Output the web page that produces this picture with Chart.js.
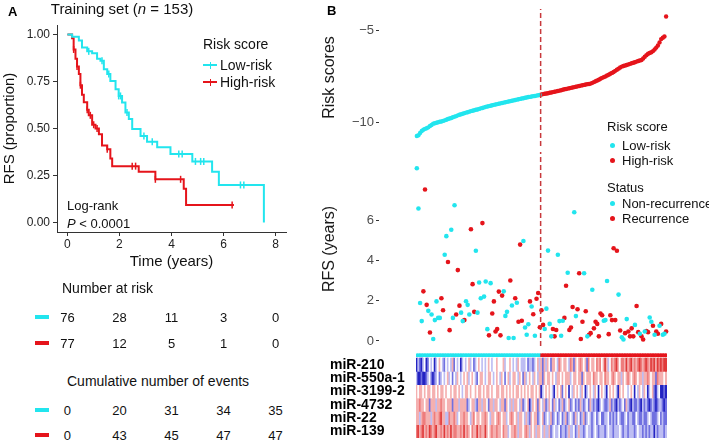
<!DOCTYPE html>
<html><head><meta charset="utf-8">
<script src="https://cdn.jsdelivr.net/npm/chart.js@4.4.1/dist/chart.umd.min.js"></script>
<style>
html,body{margin:0;padding:0;background:#fff;}
#root{position:relative;width:709px;height:441px;overflow:hidden;font-family:'Liberation Sans',Arial,sans-serif;color:#000;}
canvas{position:absolute;}
.t{position:absolute;white-space:nowrap;line-height:1;}
.k{position:absolute;}
</style></head><body><div id="root">
<canvas id="km" width="300" height="275" style="left:0;top:0;width:300px;height:275px"></canvas>
<canvas id="risk" width="399" height="150" style="left:310px;top:0;width:399px;height:150px"></canvas>
<canvas id="rfs" width="399" height="202" style="left:310px;top:148px;width:399px;height:202px"></canvas>
<canvas id="heat" width="379" height="89" style="left:330px;top:352px;width:379px;height:89px"></canvas>
</div>
<script>
// ---------------- data ----------------
const kmLowTime  = [0, 0.18, 0.44, 0.56, 0.76, 0.95, 1.14, 1.27, 1.40, 1.53, 1.65, 1.85, 1.97, 2.10, 2.23, 2.36, 2.49, 2.81, 3.06, 3.45, 3.96, 4.80, 5.56, 5.82, 7.55];
const kmLowSurv  = [1.0, 0.987, 0.968, 0.93, 0.91, 0.90, 0.87, 0.86, 0.815, 0.79, 0.752, 0.708, 0.673, 0.638, 0.585, 0.55, 0.497, 0.46, 0.43, 0.40, 0.365, 0.325, 0.27, 0.20, 0.0];
const kmHighTime = [0, 0.18, 0.24, 0.31, 0.37, 0.44, 0.50, 0.56, 0.63, 0.76, 0.82, 0.95, 1.08, 1.21, 1.33, 1.53, 1.65, 1.72, 2.74, 3.38, 4.47, 4.56, 6.40];
const kmHighSurv = [1.0, 0.98, 0.92, 0.87, 0.83, 0.79, 0.73, 0.68, 0.64, 0.60, 0.57, 0.52, 0.50, 0.47, 0.41, 0.39, 0.34, 0.30, 0.27, 0.23, 0.18, 0.094, 0.094];
const kmLowCensor  = [0.82, 1.33, 1.59, 1.97, 2.04, 2.29, 2.94, 3.26, 4.28, 4.41, 4.92, 5.12, 5.24, 6.65, 6.78];
const kmHighCensor = [0.24, 0.37, 0.50, 0.76, 0.88, 1.01, 1.14, 1.53, 2.49, 2.62, 3.38, 4.35, 6.33];
const kmXTicks = [0, 2, 4, 6, 8];
const kmYTicks = [0, 0.25, 0.5, 0.75, 1];
const tableTimes = [0, 2, 4, 6, 8];
const atRiskLow  = [76, 28, 11, 3, 0];
const atRiskHigh = [77, 12, 5, 1, 0];
const eventsLow  = [0, 20, 31, 34, 35];
const eventsHigh = [0, 43, 45, 47, 47];

const riskLow = [-10.72,-10.68,-10.55,-10.45,-10.38,-10.33,-10.30,-10.25,-10.18,-10.12,
 -10.05,-10.03,-10.00,-9.97,-9.95,-9.93,-9.90,-9.87,-9.84,-9.80,
 -9.77,-9.74,-9.70,-9.67,-9.64,-9.60,-9.57,-9.54,-9.51,-9.48,
 -9.45,-9.43,-9.40,-9.37,-9.35,-9.32,-9.30,-9.28,-9.25,-9.22,
 -9.20,-9.17,-9.14,-9.12,-9.10,-9.08,-9.05,-9.03,-9.01,-8.99,
 -8.97,-8.95,-8.93,-8.91,-8.89,-8.87,-8.85,-8.83,-8.81,-8.79,
 -8.77,-8.75,-8.73,-8.71,-8.69,-8.67,-8.65,-8.63,-8.61,-8.60,
 -8.58,-8.56,-8.55,-8.53,-8.51,-8.49];
const riskHigh = [-8.47,-8.45,-8.43,-8.42,-8.40,-8.38,-8.36,-8.34,-8.32,-8.30,
 -8.28,-8.26,-8.24,-8.21,-8.19,-8.17,-8.15,-8.13,-8.11,-8.09,
 -8.07,-8.05,-8.03,-8.01,-7.99,-7.97,-7.95,-7.93,-7.91,-7.90,
 -7.88,-7.84,-7.80,-7.75,-7.71,-7.67,-7.62,-7.57,-7.53,-7.49,
 -7.44,-7.40,-7.35,-7.30,-7.25,-7.19,-7.13,-7.07,-7.01,-6.96,
 -6.93,-6.90,-6.87,-6.84,-6.81,-6.78,-6.75,-6.72,-6.69,-6.66,
 -6.63,-6.60,-6.52,-6.43,-6.34,-6.26,-6.22,-6.18,-6.12,-6.03,
 -5.93,-5.82,-5.65,-5.47,-5.40,-5.33,-4.25];

const rfsLow = [8.60,6.60,1.89,0.99,2.47,7.54,1.80,1.50,0.42,1.32,
 0.10,1.04,1.97,1.15,1.15,2.13,1.53,4.29,5.22,3.93,
 0.54,5.54,1.15,6.76,1.32,3.53,1.76,1.41,0.99,1.04,
 1.98,1.80,1.32,5.56,2.83,1.45,4.49,1.41,2.91,2.13,
 5.87,2.21,2.96,0.59,0.28,2.88,1.37,1.97,0.47,0.60,
 2.46,0.28,2.26,2.47,1.25,1.45,0.15,3.01,1.77,0.15,
 2.13,1.90,0.96,4.80,1.01,4.98,0.67,0.31,0.83,1.97,
 1.72,1.33,0.26,2.10,2.39,0.68];
const rfsHigh = [1.53,0.80,0.60,1.61,4.50,0.85,0.23,0.60,0.23,0.55,
 4.29,0.99,0.26,1.01,1.15,2.75,3.40,0.55,0.67,1.69,
 6.41,1.24,1.58,3.37,0.10,0.96,3.37,1.48,0.23,0.31,
 0.39,2.55,0.63,0.96,0.85,0.23,1.37,1.28,1.01,1.04,
 2.99,0.34,1.28,1.04,4.62,1.04,4.49,2.31,0.52,0.18,
 0.07,0.39,1.09,0.47,0.23,0.63,0.23,0.80,1.74,0.44,
 0.36,0.23,0.07,0.47,0.50,0.44,1.17,0.96,0.76,0.31,
 0.47,0.36,0.76,0.85,0.31,0.36,0.47];
// C = non-recurrence, R = recurrence
const statusLow  = "CCCCRRRCRC CCCCCRRCCR RCCCRRRCCR CCCRRRCCCC RCCCRCRRRR RRRCCCCRCC RCRRRCCCCR CRCRRR";
const statusHigh = "RRCCCCCRRR CCCCRRCRRR CCRRRRCRCR RCRRRRRRCC CRRRRRRCRC CRCRRRRCRR CRRCRRCCRC RRCRCCR";
const riskTicks = [-10, -5];
const rfsTicks  = [0, 2, 4, 6];

const miRNAs = ['miR-210', 'miR-550a-1', 'miR-3199-2', 'miR-4732', 'miR-22', 'miR-139'];
// expression level codes: B=-3 b=-2 l=-1 0=0 p=1 r=2 R=3
const expr210  = "BlbBl0Bb0l 0Bl0p0lb0l 0lpb0l0Bl0 l0pl0bl0p0 l0l0p0l00p 000pl00p0l 0lp0lll0bl lbl0plpbpl p0bpp0lrp0 pp0lrpbp0p rp0pbr0pp0 rpr0pRpl0r prRp0rrpRp rRprprRrpr RrpRrRpRrR rRR";
const expr550  = "lBBbBBbl0b Bbl0bl0l0p l0b0lp0l0p 0pl0p0lb0p p0l0pp0l0p 0lp0b0pl0p p0lp0bpl0p 0lp0lppbp0 pp0p0lpp0p 0pppl0pp0p pbp0ppp0rp p0pp0rpp0p rp0pplp0pr p0prp0pplp prp0ppbrpp p0p";
const expr3199 = "p0pp0p0pp0 pp0p0pp0p0 0p0pp0p0l0 pp0p00p0pp 0p0pp0p00p p0pp0p0p0p 0pp0p0p0p0 pp0p0pBl0p 0p0lB0p0pb 0p0B0lp0p0 lp0Bl0p0lp 0B0p0lB0p0 p0lBp0p00l 0p0B0lp0lp 0Bl0pbBl0B BbB";
const expr4732 = "pprpp0ppbp pplpprpp0p ppbppplppp pbl0pplbpp lpp0bpplpp 0lppbp0lpl pp0lpbl0pB lp0pbp0lpb lp0bpl0blp bl0pbl0blb plbl0bplbl bBl0lbblpb lbBlbl0bpl bBlbblbBlb lbBblbBbll bBb";
const expr22   = "pplprrpppl prpprRppll rpprpl0ppr pp0lpr0pp0 pprp0lpp0p rp0ppl0prp 0plpp0lplb p0ppbl0pbl 0lpbl0bl0b lpbl0lbpl0 blpbl0lbl0 bl0bbll0bl blb0lbbl0b llbb0lbblb bl0lbbbl0b lbb";
const expr139  = "rRprRprpRr prRpprpRpr pRprrpprpR prp0rppRpr ppRp0prppr pp0rppl0pp rplpp0prpl p0plpp0lpl lpbl0ll0bl lblpll0blp llbl0llbl0 lblllbl0ll blll0lbllb lllbl0llbl blbllBlbll lbl";

// ---------------- style ----------------
const FONT = "'Liberation Sans', Arial, sans-serif";
Chart.defaults.font.family = FONT;
Chart.defaults.animation = false;
Chart.defaults.responsive = false;
Chart.defaults.plugins.legend.display = false;
Chart.defaults.plugins.tooltip.enabled = false;
const CYAN = '#22e5ee', RED = '#e5141b', DASH = '#c8393c';

const root = document.getElementById('root');
function txt(html, x, y, size, opt) {
  opt = opt || {};
  const d = document.createElement('div');
  d.className = 't';
  d.innerHTML = html;
  d.style.left = x + 'px';
  d.style.top = (y - size * 0.5) + 'px';
  d.style.fontSize = size + 'px';
  if (opt.bold) d.style.fontWeight = 'bold';
  if (opt.color) d.style.color = opt.color;
  if (opt.align === 'center') d.style.transform = 'translateX(-50%)';
  if (opt.align === 'right') d.style.transform = 'translateX(-100%)';
  root.appendChild(d);
  return d;
}
function box(x, y, w, h, color, round) {
  const d = document.createElement('div');
  d.className = 'k';
  d.style.cssText = `left:${x}px;top:${y}px;width:${w}px;height:${h}px;background:${color};` + (round ? 'border-radius:50%;' : '');
  root.appendChild(d);
}
// fixed axis size, no automatic label padding
function fixW(w) { return s => { s.width = w; s.paddingTop = 0; s.paddingBottom = 0; }; }
function fixH(h) { return s => { s.height = h; s.paddingLeft = 0; s.paddingRight = 0; }; }

// ---------------- Panel A : Kaplan-Meier ----------------
function survAt(times, surv, t) {
  let s = surv[0];
  for (let i = 0; i < times.length; i++) if (times[i] <= t) s = surv[i];
  return s;
}
const km = new Chart(document.getElementById('km'), {
  type: 'line',
  data: { datasets: [
    { data: kmLowTime.map((t, i) => ({x: t, y: kmLowSurv[i]})), stepped: true, borderColor: CYAN, borderWidth: 2, pointRadius: 0, fill: false },
    { data: kmHighTime.map((t, i) => ({x: t, y: kmHighSurv[i]})), stepped: true, borderColor: RED, borderWidth: 2, pointRadius: 0, fill: false },
    { data: kmLowCensor.map(t => ({x: t, y: survAt(kmLowTime, kmLowSurv, t)})), showLine: false, pointStyle: 'line', rotation: 90, pointRadius: 3.5, pointBorderWidth: 1.5, pointBorderColor: CYAN },
    { data: kmHighCensor.map(t => ({x: t, y: survAt(kmHighTime, kmHighSurv, t)})), showLine: false, pointStyle: 'line', rotation: 90, pointRadius: 3.5, pointBorderWidth: 1.5, pointBorderColor: RED }
  ]},
  options: {
    layout: { padding: { top: 25, right: 14, left: 0, bottom: 0 } },
    scales: {
      x: { type: 'linear', min: -0.4, max: 8.4,
        afterBuildTicks: s => { s.ticks = kmXTicks.map(v => ({value: v})); },
        afterFit: fixH(43),
        ticks: { color: '#222', font: { size: 12 }, padding: 1, maxRotation: 0 },
        grid: { drawOnChartArea: false, tickLength: 4, color: '#333' },
        border: { color: '#333', width: 1 },
        title: { display: true, text: 'Time (years)', color: '#111', font: { size: 15 }, padding: { top: 0, bottom: 4 } } },
      y: { type: 'linear', min: -0.05, max: 1.05,
        afterBuildTicks: s => { s.ticks = kmYTicks.map(v => ({value: v})); },
        afterFit: fixW(57),
        ticks: { color: '#222', font: { size: 12 }, padding: 3, callback: v => Number(v).toFixed(2) },
        grid: { drawOnChartArea: false, tickLength: 4, color: '#333' },
        border: { color: '#333', width: 1 },
        title: { display: true, text: 'RFS (proportion)', color: '#111', font: { size: 15 }, padding: { top: 1, bottom: 0 } } }
    }
  }
});

txt('A', 8, 11, 13, {bold: true});
txt('Training set (<i>n</i> = 153)', 122, 8, 15, {align: 'center', color: '#111'});
txt('Risk score', 203, 44, 14, {color: '#111'});
box(203, 64, 14, 2, CYAN); box(209.5, 61.5, 1.5, 7, CYAN);
txt('Low-risk', 220, 65, 14, {color: '#111'});
box(203, 81, 14, 2, RED); box(209.5, 78.5, 1.5, 7, RED);
txt('High-risk', 220, 82, 14, {color: '#111'});
txt('Log-rank', 67, 205, 13, {color: '#111'});
txt('<i>P</i> &lt; 0.0001', 67, 223, 13, {color: '#111'});

// number-at-risk / cumulative events tables placed on the KM time scale
const kx = t => km.scales.x.getPixelForValue(t);
txt('Number at risk', 62, 288, 14, {color: '#111'});
txt('Cumulative number of events', 67, 381, 14, {color: '#111'});
[[atRiskLow, 317, CYAN], [atRiskHigh, 343, RED], [eventsLow, 410, CYAN], [eventsHigh, 435, RED]].forEach(([vals, y, col]) => {
  box(35, y - 2, 14, 4, col);
  vals.forEach((v, i) => txt(String(v), kx(tableTimes[i]), y, 13, {align: 'center', color: '#111'}));
});

// ---------------- Panel B ----------------
const N = riskLow.length + riskHigh.length;
const cut = riskLow.length - 0.5;
const HEAT_L = 416, COLW = 1.64;
const B_LEFT = 379, B_RIGHT = 700;
const xMinB = (B_LEFT - HEAT_L) / COLW - 0.5;
const xMaxB = (B_RIGHT - HEAT_L) / COLW - 0.5;
const fmtNum = v => (v < 0 ? '\u2212' + Math.abs(v) : String(v));

function bScales(yMin, yMax, ticksArr, title) {
  return {
    x: { type: 'linear', display: false, min: xMinB, max: xMaxB },
    y: { type: 'linear', min: yMin, max: yMax,
      afterBuildTicks: s => { s.ticks = ticksArr.map(v => ({value: v})); },
      afterFit: fixW(B_LEFT - 310),
      ticks: { color: '#4d4d4d', font: { size: 13 }, padding: 2, callback: v => fmtNum(v) },
      grid: { drawOnChartArea: false, tickLength: 3, color: '#333' },
      border: { display: false },
      title: { display: true, text: title, color: '#1a1a1a', font: { size: 16 }, padding: { top: 10, bottom: 0 } } }
  };
}
function cutLine(yMin, yMax) {
  return { data: [{x: cut, y: yMin}, {x: cut, y: yMax}], showLine: true, borderColor: DASH, borderDash: [5, 3], borderWidth: 1.5, pointRadius: 0 };
}

const RISK_MIN = -11.26, RISK_MAX = -3.84;
new Chart(document.getElementById('risk'), {
  type: 'scatter',
  data: { datasets: [
    cutLine(RISK_MIN, RISK_MAX),
    { data: riskLow.map((v, i) => ({x: i, y: v})), backgroundColor: CYAN, pointRadius: 2.2, pointBorderWidth: 0 },
    { data: riskHigh.map((v, i) => ({x: riskLow.length + i, y: v})), backgroundColor: RED, pointRadius: 2.2, pointBorderWidth: 0 }
  ]},
  options: { layout: { padding: { top: 9, right: 709 - B_RIGHT, bottom: 0, left: 0 } }, scales: bScales(RISK_MIN, RISK_MAX, riskTicks, 'Risk scores') }
});

const rfsAll = rfsLow.concat(rfsHigh);
const statusAll = (statusLow + statusHigh).replace(/\s/g, '').split('');
const RFS_MIN = -0.25, RFS_MAX = 9.41;
new Chart(document.getElementById('rfs'), {
  type: 'scatter',
  data: { datasets: [
    cutLine(RFS_MIN, RFS_MAX),
    { data: rfsAll.map((v, i) => ({x: i, y: v, s: statusAll[i]})).filter(p => p.s === 'C'), backgroundColor: CYAN, pointRadius: 2.3, pointBorderWidth: 0 },
    { data: rfsAll.map((v, i) => ({x: i, y: v, s: statusAll[i]})).filter(p => p.s === 'R'), backgroundColor: RED, pointRadius: 2.3, pointBorderWidth: 0 }
  ]},
  options: { layout: { padding: { top: 2, right: 709 - B_RIGHT, bottom: 2, left: 0 } }, scales: bScales(RFS_MIN, RFS_MAX, rfsTicks, 'RFS (years)') }
});

// heatmap
const codeVal = { B: -3, b: -2, l: -1, '0': 0, p: 1, r: 2, R: 3 };
const valColor = { '-3': '#2424c2', '-2': '#7070e0', '-1': '#bdbdf3', '0': '#ffffff', '1': '#f5b0b0', '2': '#ee7c7c', '3': '#e03a3a' };
const exprRows = [expr210, expr550, expr3199, expr4732, expr22, expr139].map(s => s.replace(/\s/g, '').split('').map(c => codeVal[c]));
const sampleIds = Array.from({length: N}, (_, i) => String(i + 1));
const heatSets = exprRows.map((row, r) => ({
  data: row.map(() => [5 - r, 6 - r]),
  backgroundColor: row.map(v => valColor[String(v)]),
  borderWidth: 0, barPercentage: 1, categoryPercentage: 1, grouped: false
}));
heatSets.push({
  data: sampleIds.map(() => [6.1, 6.32]),
  backgroundColor: sampleIds.map((_, i) => (i < riskLow.length ? CYAN : RED)),
  borderWidth: 0, barPercentage: 1, categoryPercentage: 1, grouped: false
});
new Chart(document.getElementById('heat'), {
  type: 'bar',
  data: { labels: sampleIds, datasets: heatSets },
  options: {
    layout: { padding: { top: 1, bottom: 3, left: 0, right: 709 - (HEAT_L + N * COLW) } },
    scales: {
      x: { type: 'category', display: false },
      y: { type: 'linear', min: 0, max: 6.375,
        afterBuildTicks: s => { s.ticks = miRNAs.map((_, r) => ({value: 5.5 - r})); },
        afterFit: fixW(HEAT_L - 330),
        ticks: { autoSkip: false, crossAlign: 'far', color: '#000', font: { size: 14, weight: 'bold' }, padding: 0,
          callback: v => miRNAs[Math.round(5.5 - v)] },
        grid: { display: false }, border: { display: false } }
    }
  }
});

txt('B', 327, 10, 13, {bold: true});
txt('Risk score', 607, 126, 13, {color: '#111'});
box(609.5, 142.5, 5, 5, CYAN, true); txt('Low-risk', 622, 145, 13, {color: '#111'});
box(609.5, 157.5, 5, 5, RED, true);  txt('High-risk', 622, 160, 13, {color: '#111'});
txt('Status', 607, 187, 13, {color: '#111'});
box(609.5, 200.5, 5, 5, CYAN, true); txt('Non-recurrence', 622, 203, 13, {color: '#111'});
box(609.5, 215.5, 5, 5, RED, true);  txt('Recurrence', 622, 218, 13, {color: '#111'});
</script>
</body></html>
